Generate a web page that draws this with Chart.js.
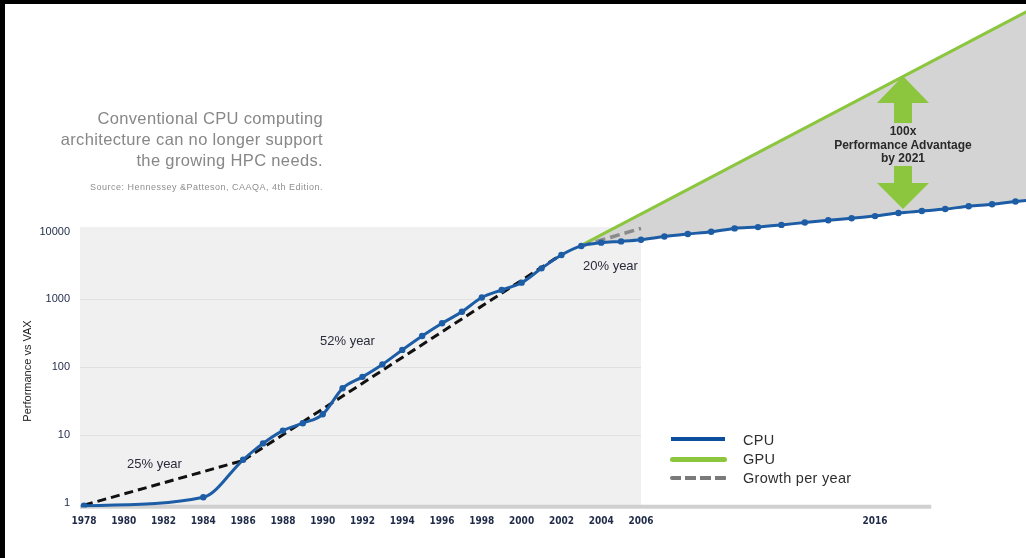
<!DOCTYPE html>
<html><head><meta charset="utf-8">
<script src="https://cdn.jsdelivr.net/npm/chart.js@4.4.1/dist/chart.umd.min.js"></script>
<style>
html,body{margin:0;padding:0;background:#fff;}
#wrap{position:relative;width:1026px;height:558px;overflow:hidden;background:#fff;}
#c{position:absolute;left:0;top:0;}
.t{position:absolute;white-space:nowrap;font-family:"Liberation Sans",Arial,sans-serif;}
.bt{position:absolute;left:0;top:0;width:1026px;height:4px;background:#000;}
.bl{position:absolute;left:0;top:0;width:5px;height:558px;background:#000;}
.head{font-size:16.5px;line-height:21px;color:#878787;letter-spacing:0.35px;text-align:right;right:703px;}
.src{font-size:9px;line-height:10px;color:#8f8f8f;letter-spacing:0.5px;right:703px;}
.lab{font-size:13px;line-height:14px;color:#2b2b3b;}
.ann{font-size:12px;line-height:13.5px;font-weight:bold;color:#2a2a2a;text-align:center;width:200px;}
.leg{font-size:14.5px;line-height:16px;color:#2f2f2f;letter-spacing:0.3px;left:743px;}
.sw{position:absolute;}
.ytitle{font-size:11px;line-height:12px;color:#222;width:140px;text-align:center;transform:rotate(-90deg);transform-origin:center;}
</style></head><body>
<div id="wrap">
<canvas id="c" width="1026" height="558"></canvas>
<div class="bt"></div><div class="bl"></div>

<div class="t head" style="top:108px">Conventional CPU computing<br>architecture can no longer support<br>the growing HPC needs.</div>
<div class="t src" style="top:182px">Source: Hennessey &amp;Patteson, CAAQA, 4th Edition.</div>

<div class="t ytitle" style="left:-43px;top:365px">Performance vs VAX</div>

<div class="t lab" style="left:127px;top:457px">25% year</div>
<div class="t lab" style="left:320px;top:334px">52% year</div>
<div class="t lab" style="left:583px;top:259px">20% year</div>

<div class="t ann" style="left:803px;top:125px">100x<br>Performance Advantage<br>by 2021</div>

<div class="sw" style="left:671px;top:437px;width:54px;height:4px;background:#0b4f9c;"></div>
<div class="sw" style="left:670px;top:456.5px;width:57px;height:5px;background:#8cc63f;border-radius:3px;"></div>
<div class="sw" style="left:670px;top:476px;width:57px;height:4px;border-radius:2px;background:repeating-linear-gradient(90deg,#7a7a7a 0 11px,transparent 11px 15px);"></div>
<div class="t leg" style="top:432px">CPU</div>
<div class="t leg" style="top:451px">GPU</div>
<div class="t leg" style="top:470px">Growth per year</div>
</div>
<script>
// ---------------- data ----------------
const cpuYears = [1978,1984,1986,1987,1988,1989,1990,1991,1992,1993,1994,1995,1996,1997,1998,1999,2000,2001,2002,2003,
                  2004,2005,2006,2007,2008,2009,2010,2011,2012,2013,2014,2015,2016,2017,2018,2019,2020,2021,2022,2023];
const cpuPerf  = [0.9,1.2,4.3,7.5,11.6,14.9,20.2,48.8,72,110,180,289,445,660,1070,1380,1770,2880,4530,6170,
                  6900,7200,7600,8480,9250,10000,11200,11700,12600,13700,14800,15800,17000,18900,20200,21600,23800,25500,27900,30200];
const gpuYears = [2003,2023];
const gpuPerf  = [6300,2.2e7];
const growth25Years = [1978,1986];
const growth25Perf  = [0.92,4.2];
const growth52Years = [1986,2002];
const growth52Perf  = [4.2,4600];
const growth20Years = [2003,2006];
const growth20Perf  = [6170,11200];
const xTickYears = [1978,1980,1982,1984,1986,1988,1990,1992,1994,1996,1998,2000,2002,2004,2006,2016];
const yTickValues = [1,10,100,1000,10000];
const gridValues = [10,100,1000];

// ---------------- scale setup ----------------
const X_MIN = 1977.8, X_MAX = 2022.45, SPLIT_AT = 2006, SPLIT_FRAC = 0.593;
const Y_MIN = 0.849, Y_MAX = 2.3e7;
const PANEL_TOP = 11700, AXIS_VAL = 0.9, AXIS_END = 2018.4;

class SplitScale extends Chart.LinearScale {
  getPixelForValue(value) {
    if (value === null || value === undefined || isNaN(value)) return NaN;
    let d;
    if (value <= SPLIT_AT) d = (value - this.min) / (SPLIT_AT - this.min) * SPLIT_FRAC;
    else d = SPLIT_FRAC + (value - SPLIT_AT) / (this.max - SPLIT_AT) * (1 - SPLIT_FRAC);
    return this.getPixelForDecimal(d);
  }
  getValueForPixel(pixel) {
    const d = this.getDecimalForPixel(pixel);
    if (d <= SPLIT_FRAC) return this.min + d / SPLIT_FRAC * (SPLIT_AT - this.min);
    return SPLIT_AT + (d - SPLIT_FRAC) / (1 - SPLIT_FRAC) * (this.max - SPLIT_AT);
  }
}
SplitScale.id = 'split';
SplitScale.defaults = Chart.LinearScale.defaults;
Chart.register(SplitScale);

const pts = (xs, ys) => xs.map((x, i) => ({x, y: ys[i]}));
const noPad = s => { s.paddingTop = 0; s.paddingBottom = 0; s.paddingLeft = 0; s.paddingRight = 0; };

const decor = {
  id: 'decor',
  beforeDatasetsDraw(chart) {
    const {ctx, scales: {x, y}} = chart;
    const l = x.getPixelForValue(X_MIN), r = x.getPixelForValue(SPLIT_AT);
    const t = y.getPixelForValue(PANEL_TOP), b = y.getPixelForValue(Y_MIN);
    ctx.save();
    ctx.fillStyle = '#f0f0f0';
    ctx.fillRect(l, t, r - l, b - t);
    ctx.strokeStyle = '#e0e0e0';
    ctx.lineWidth = 1;
    gridValues.forEach(v => {
      const py = Math.round(y.getPixelForValue(v)) + 0.5;
      ctx.beginPath(); ctx.moveTo(l, py); ctx.lineTo(r, py); ctx.stroke();
    });
    ctx.strokeStyle = '#d0d0d0';
    ctx.lineWidth = 4;
    const ay = y.getPixelForValue(AXIS_VAL) + 1;
    ctx.beginPath(); ctx.moveTo(l, ay); ctx.lineTo(x.getPixelForValue(AXIS_END), ay); ctx.stroke();
    ctx.restore();
  },
  afterDatasetsDraw(chart) {
    const {ctx} = chart;
    ctx.save();
    ctx.fillStyle = '#8cc63f';
    const cx = 903;
    ctx.beginPath();
    ctx.moveTo(cx, 76); ctx.lineTo(cx + 26, 103); ctx.lineTo(cx + 9, 103); ctx.lineTo(cx + 9, 123);
    ctx.lineTo(cx - 9, 123); ctx.lineTo(cx - 9, 103); ctx.lineTo(cx - 26, 103); ctx.closePath(); ctx.fill();
    ctx.beginPath();
    ctx.moveTo(cx, 209); ctx.lineTo(cx + 26, 183); ctx.lineTo(cx + 9, 183); ctx.lineTo(cx + 9, 166);
    ctx.lineTo(cx - 9, 166); ctx.lineTo(cx - 9, 183); ctx.lineTo(cx - 26, 183); ctx.closePath(); ctx.fill();
    ctx.restore();
  }
};

const CPU_COLOR = '#1d5da6';

new Chart(document.getElementById('c'), {
  type: 'line',
  data: {
    datasets: [
      {label: 'CPU', order: 0, data: pts(cpuYears, cpuPerf), borderColor: CPU_COLOR, backgroundColor: CPU_COLOR,
       borderWidth: 3, pointRadius: 3.2, pointBackgroundColor: CPU_COLOR, pointBorderWidth: 0,
       cubicInterpolationMode: 'monotone', fill: false},
      {label: 'GPU', order: 3, data: pts(gpuYears, gpuPerf), borderColor: '#8cc63f', backgroundColor: '#d4d4d4',
       borderWidth: 3, pointRadius: 0, fill: {target: 0, above: '#d4d4d4', below: '#d4d4d4'}},
      {label: 'Growth 25%', order: 1, data: pts(growth25Years, growth25Perf), borderColor: '#111', borderWidth: 3,
       borderDash: [9, 5], pointRadius: 0, fill: false},
      {label: 'Growth 52%', order: 1, data: pts(growth52Years, growth52Perf), borderColor: '#111', borderWidth: 3,
       borderDash: [9, 5], pointRadius: 0, fill: false},
      {label: 'Growth 20%', order: 1, data: pts(growth20Years, growth20Perf), borderColor: '#8a8a8a', borderWidth: 3.5,
       borderDash: [10, 5], pointRadius: 0, fill: false}
    ]
  },
  options: {
    responsive: false,
    animation: false,
    layout: {autoPadding: false, padding: {top: 4, left: 0, right: 0, bottom: 0}},
    plugins: {legend: {display: false}, tooltip: {enabled: false}},
    scales: {
      x: {
        type: 'split', min: X_MIN, max: X_MAX, bounds: 'data',
        grid: {display: false, drawTicks: false}, border: {display: false},
        afterBuildTicks: s => { s.ticks = xTickYears.map(v => ({value: v})); },
        afterFit: s => { s.height = 50.5; noPad(s); },
        ticks: {autoSkip: false, maxRotation: 0, padding: 8, color: '#1e2a48',
                font: {family: "'Liberation Sans Narrow','DejaVu Sans Condensed',sans-serif", size: 10, weight: 'bold'},
                callback: v => String(v)}
      },
      y: {
        type: 'logarithmic', min: Y_MIN, max: Y_MAX, bounds: 'data',
        grid: {display: false, drawTicks: false}, border: {display: false},
        afterBuildTicks: s => { s.ticks = yTickValues.map(v => ({value: v})); },
        afterFit: s => { s.width = 80; noPad(s); },
        ticks: {padding: 10, color: '#1e2a48',
                font: {family: "'Liberation Sans',Arial,sans-serif", size: 11},
                callback: v => String(v)}
      }
    }
  },
  plugins: [decor]
});
</script>
</body></html>
